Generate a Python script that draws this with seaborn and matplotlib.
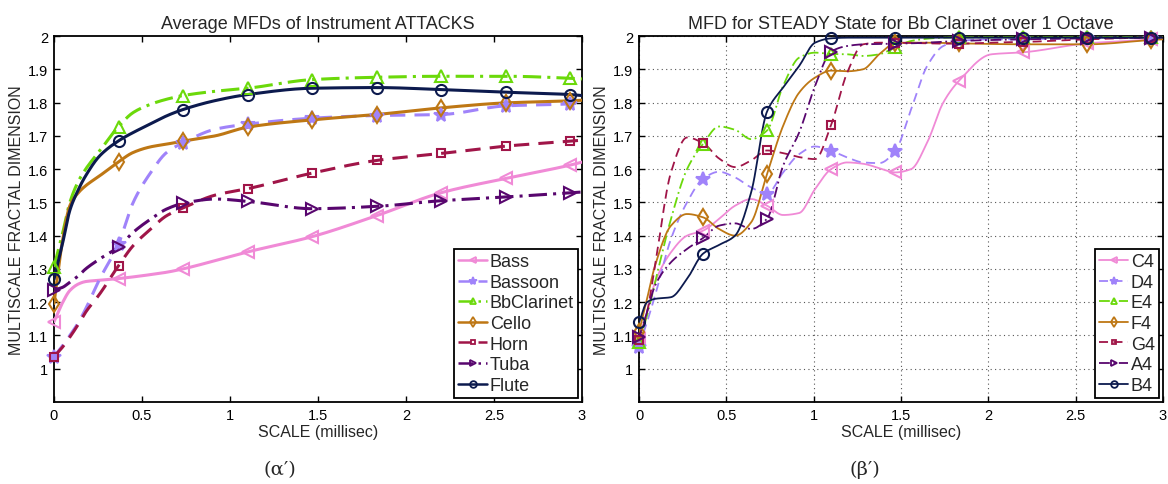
import numpy as np
import pandas as pd
import matplotlib
matplotlib.use("Agg")
import matplotlib.pyplot as plt
from matplotlib.lines import Line2D
import seaborn as sns

# ---------------- data ----------------
# Panel (a'): average MFDs of instrument attacks
X_L = [0, 0.05, 0.09, 0.14, 0.18, 0.26, 0.367, 0.45, 0.55, 0.64, 0.733, 0.917,
       1.1, 1.467, 1.833, 2.2, 2.567, 2.933, 3.0]
instruments = ["Bass", "Bassoon", "BbClarinet", "Cello", "Horn", "Tuba", "Flute"]
bass = [1.141, 1.20, 1.235, 1.255, 1.262, 1.266, 1.271, 1.276, 1.283, 1.29, 1.30,
        1.325, 1.351, 1.397, 1.460, 1.529, 1.572, 1.612, 1.621]
bassoon = [1.036, 1.07, 1.10, 1.14, 1.18, 1.27, 1.376, 1.50, 1.59, 1.65, 1.679,
           1.72, 1.735, 1.753, 1.761, 1.764, 1.790, 1.796, 1.799]
bbclarinet = [1.306, 1.41, 1.50, 1.565, 1.60, 1.655, 1.728, 1.77, 1.795, 1.81,
              1.821, 1.834, 1.843, 1.869, 1.876, 1.879, 1.879, 1.873, 1.871]
cello = [1.196, 1.39, 1.49, 1.53, 1.55, 1.58, 1.622, 1.65, 1.667, 1.675, 1.684,
         1.70, 1.726, 1.748, 1.764, 1.784, 1.799, 1.805, 1.807]
horn = [1.036, 1.066, 1.095, 1.135, 1.17, 1.225, 1.31, 1.37, 1.42, 1.46, 1.483,
        1.522, 1.541, 1.588, 1.626, 1.647, 1.669, 1.684, 1.687]
tuba = [1.236, 1.245, 1.26, 1.28, 1.30, 1.33, 1.366, 1.41, 1.45, 1.48, 1.497,
        1.51, 1.503, 1.481, 1.488, 1.505, 1.516, 1.529, 1.531]
flute = [1.269, 1.38, 1.476, 1.54, 1.58, 1.64, 1.685, 1.71, 1.736, 1.76, 1.779,
         1.806, 1.824, 1.843, 1.845, 1.839, 1.831, 1.824, 1.821]

# Panel (b'): steady state MFD for Bb clarinet over one octave
X_R = [0, 0.046, 0.092, 0.183, 0.275, 0.367, 0.458, 0.55, 0.642, 0.733, 0.825,
       0.917, 1.008, 1.1, 1.192, 1.283, 1.375, 1.467, 1.558, 1.65, 1.742, 1.833,
       2.017, 2.2, 2.567, 2.933, 3.0]
notes = ["C4", "D4", "E4", "F4", "G4", "A4", "B4"]
c4 = [1.09, 1.17, 1.26, 1.35, 1.40, 1.415, 1.45, 1.49, 1.51, 1.49, 1.462, 1.468,
      1.54, 1.60, 1.62, 1.616, 1.603, 1.59, 1.60, 1.68, 1.80, 1.866, 1.945, 1.951,
      1.978, 1.99, 1.995]
d4 = [1.066, 1.14, 1.22, 1.39, 1.50, 1.571, 1.592, 1.575, 1.545, 1.526, 1.59,
      1.645, 1.668, 1.655, 1.635, 1.62, 1.618, 1.654, 1.78, 1.91, 1.97, 1.985,
      1.99, 1.99, 1.995, 1.995, 1.995]
e4 = [1.08, 1.16, 1.26, 1.45, 1.60, 1.676, 1.728, 1.718, 1.69, 1.716, 1.85, 1.935,
      1.95, 1.946, 1.945, 1.94, 1.945, 1.966, 1.985, 1.992, 1.995, 1.996, 1.996,
      1.996, 1.996, 1.996, 1.996]
f4 = [1.11, 1.21, 1.31, 1.43, 1.465, 1.455, 1.42, 1.40, 1.44, 1.585, 1.73, 1.83,
      1.875, 1.896, 1.894, 1.90, 1.945, 1.978, 1.98, 1.98, 1.979, 1.978, 1.976,
      1.975, 1.975, 1.988, 1.99]
g4 = [1.085, 1.17, 1.31, 1.59, 1.695, 1.678, 1.632, 1.606, 1.626, 1.656, 1.648,
      1.636, 1.63, 1.733, 1.89, 1.975, 1.98, 1.98, 1.979, 1.978, 1.977, 1.977,
      1.98, 1.982, 1.99, 1.995, 1.995]
a4 = [1.095, 1.17, 1.25, 1.32, 1.36, 1.393, 1.43, 1.437, 1.42, 1.451, 1.61, 1.71,
      1.85, 1.953, 1.97, 1.975, 1.976, 1.977, 1.978, 1.98, 1.983, 1.985, 1.988,
      1.99, 1.993, 1.995, 1.995]
b4 = [1.139, 1.20, 1.21, 1.215, 1.27, 1.346, 1.372, 1.40, 1.53, 1.773, 1.845,
      1.91, 1.98, 1.993, 1.995, 1.995, 1.995, 1.995, 1.995, 1.995, 1.995, 1.995,
      1.995, 1.995, 1.995, 1.995, 1.995]

MARKER_X = [0, 0.367, 0.733, 1.1, 1.467, 1.833, 2.2, 2.567, 2.933]

X_TICKS = [0, 0.5, 1, 1.5, 2, 2.5, 3]
X_TICKLABELS = ["0", "0.5", "1", "1.5", "2", "2.5", "3"]
Y_TICKS = [1, 1.1, 1.2, 1.3, 1.4, 1.5, 1.6, 1.7, 1.8, 1.9, 2]
Y_TICKLABELS = ["1", "1.1", "1.2", "1.3", "1.4", "1.5", "1.6", "1.7", "1.8", "1.9", "2"]

TITLE_L = "Average MFDs of Instrument ATTACKS"
TITLE_R = "MFD for STEADY State for Bb Clarinet over 1 Octave"
XLABEL = "SCALE (millisec)"
YLABEL = "MULTISCALE FRACTAL DIMENSION"
CAPTIONS = ["(\u03b1\u2032)", "(\u03b2\u2032)"]

# ---------------- styles ----------------
COLORS = ["#F08AD6", "#A083FA", "#6BD90A", "#BE7714", "#A01548", "#58066E", "#0C1A4E"]
LSTYLES = ["-", (0, (5, 3)), (0, (6, 2, 1, 2)), "-", (0, (5, 3)), (0, (6, 2, 1, 2)), "-"]
MARKERS = ["<", "*", "^", "d", "s", ">", "o"]
MSIZES = [8, 10, 8, 8, 6, 8, 8]


def pchip(x, y, n=400):
    """Shape-preserving cubic Hermite curve through the read points (render only)."""
    x = np.asarray(x, float)
    y = np.asarray(y, float)
    h = np.diff(x)
    dl = np.diff(y) / h
    d = np.zeros_like(y)
    d[0], d[-1] = dl[0], dl[-1]
    for k in range(1, len(x) - 1):
        if dl[k - 1] * dl[k] > 0:
            w1 = 2 * h[k] + h[k - 1]
            w2 = h[k] + 2 * h[k - 1]
            d[k] = (w1 + w2) / (w1 / dl[k - 1] + w2 / dl[k])
    xs = np.linspace(x[0], x[-1], n)
    idx = np.clip(np.searchsorted(x, xs) - 1, 0, len(x) - 2)
    t = (xs - x[idx]) / h[idx]
    h00 = 2 * t**3 - 3 * t**2 + 1
    h10 = t**3 - 2 * t**2 + t
    h01 = -2 * t**3 + 3 * t**2
    h11 = t**3 - t**2
    ys = h00 * y[idx] + h10 * h[idx] * d[idx] + h01 * y[idx + 1] + h11 * h[idx] * d[idx + 1]
    return xs, ys


sns.set_theme(style="white")
plt.rcParams["font.family"] = ["Liberation Sans", "DejaVu Sans"]

fig = plt.figure(figsize=(11.68, 4.85), dpi=100)
axL = fig.add_axes([54 / 1168, 1 - 403 / 485, 528 / 1168, 366 / 485])
axR = fig.add_axes([639 / 1168, 1 - 403 / 485, 524 / 1168, 366 / 485])


def draw_panel(ax, X, names, series, lw, title, grid):
    X = np.asarray(X, float)
    midx = [int(np.argmin(np.abs(X - m))) for m in MARKER_X]
    handles = []
    for i, (name, ys) in enumerate(zip(names, series)):
        xs_s, ys_s = pchip(X, ys)
        df = pd.DataFrame({"x": xs_s, "y": ys_s})
        sns.lineplot(data=df, x="x", y="y", ax=ax, color=COLORS[i], linewidth=lw,
                     linestyle=LSTYLES[i], legend=False, zorder=3 + i * 0.01)
        ym = np.asarray(ys)[midx]
        xm = X[midx]
        filled = MARKERS[i] == "*"
        ax.plot(xm, ym, ls="none", marker=MARKERS[i], ms=MSIZES[i],
                mfc=COLORS[i] if filled else "none", mec=COLORS[i], mew=1.5,
                zorder=4 + i * 0.01, clip_on=False)
        handles.append(Line2D([0], [0], color=COLORS[i], lw=min(lw, 1.8), linestyle=LSTYLES[i],
                              marker=MARKERS[i], ms=MSIZES[i] * 0.6,
                              mfc=COLORS[i] if filled else "none", mec=COLORS[i], mew=1.3,
                              label=name))
    ax.set_xlim(0, 3)
    ax.set_ylim(0.9, 2.0)
    ax.set_xticks(X_TICKS)
    ax.set_xticklabels(X_TICKLABELS)
    ax.set_yticks(Y_TICKS)
    ax.set_yticklabels(Y_TICKLABELS)
    ax.tick_params(direction="in", length=4, width=1, top=True, right=True,
                   bottom=True, left=True, labelsize=10.5, colors="black", pad=4)
    for s in ax.spines.values():
        s.set_color("black")
        s.set_linewidth(1.3)
    ax.set_xlabel(XLABEL, fontsize=11.5, labelpad=2)
    ax.set_ylabel(YLABEL, fontsize=11.5, labelpad=3)
    ax.set_title(title, fontsize=13, pad=6)
    if grid:
        ax.grid(True, linestyle=(0, (1, 3)), color="#555555", linewidth=0.8)
    else:
        ax.grid(False)
    leg = ax.legend(handles=handles, loc="lower right", fontsize=13,
                    frameon=True, fancybox=False, framealpha=1, edgecolor="black",
                    borderpad=0.25, labelspacing=0.2, handlelength=1.6,
                    handletextpad=0.15, borderaxespad=0.2)
    leg.get_frame().set_linewidth(1.3)


draw_panel(axL, X_L, instruments, [bass, bassoon, bbclarinet, cello, horn, tuba, flute],
           2.2, TITLE_L, grid=False)
draw_panel(axR, X_R, notes, [c4, d4, e4, f4, g4, a4, b4], 1.3, TITLE_R, grid=True)

fig.text(280 / 1168, 1 - 470 / 485, CAPTIONS[0], ha="center", va="center",
         fontsize=14, family=["DejaVu Serif"])
fig.text(865 / 1168, 1 - 470 / 485, CAPTIONS[1], ha="center", va="center",
         fontsize=14, family=["DejaVu Serif"])

fig.savefig("out.png", dpi=100)
